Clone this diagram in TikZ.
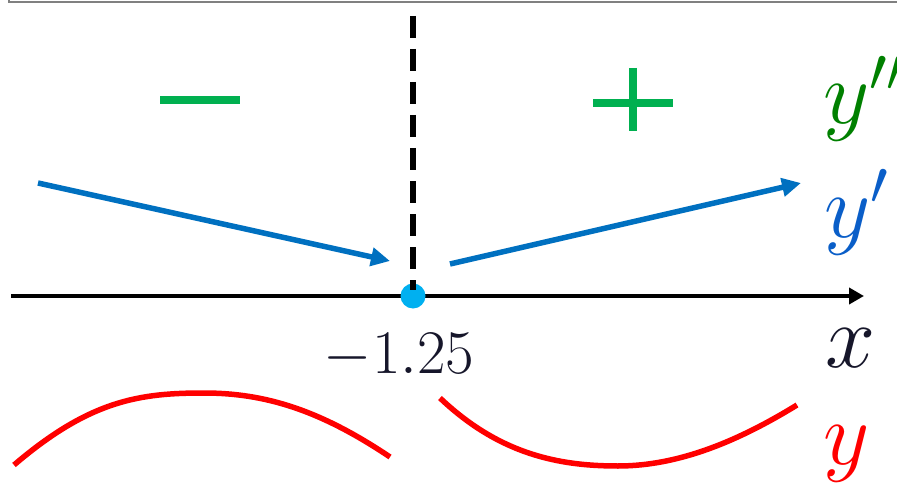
\RequirePackage{fix-cm}
\documentclass[tikz,border=0pt]{standalone}
\usetikzlibrary{arrows.meta}
\definecolor{signgreen}{HTML}{00B050}
\definecolor{labgreen}{HTML}{008000}
\definecolor{arrblue}{HTML}{0070C0}
\definecolor{labblue}{RGB}{10,94,200}
\definecolor{dotcyan}{HTML}{00B0F0}
\definecolor{curvered}{HTML}{FF0000}
\definecolor{darktext}{RGB}{22,22,42}
\definecolor{framegray}{RGB}{128,128,128}
\tikzset{
  lab/.style={inner sep=0pt, anchor=base west, font=\fontsize{90}{90}\selectfont},
  numlab/.style={inner sep=0pt, anchor=base, font=\fontsize{62}{62}\selectfont, text=darktext},
  bluearrow/.style={draw=arrblue, line width=5.5pt, -{Triangle[length=19pt,width=18pt]}},
  axisarrow/.style={draw=black, line width=3.8pt, -{Triangle[length=15pt,width=16pt]}},
  sign/.style={draw=signgreen, line width=8pt},
  curve/.style={draw=curvered, line width=5.5pt},
  vdash/.style={draw=black, line width=5.5pt, dash pattern=on 22pt off 11pt}
}
\begin{document}
\begin{tikzpicture}[x=1pt,y=-1pt]
\useasboundingbox (0,0) rectangle (897,484);
% cropped frame at top
\draw[framegray, line width=2.5pt] (9,2) -- (897,2);
\draw[framegray, line width=1.5pt] (9,0) -- (9,3);
% axis
\coordinate (axL) at (11,296);
\coordinate (axR) at (864,296);
\draw[axisarrow] (axL) -- (axR);
% critical point
\node[circle, fill=dotcyan, minimum size=25pt, inner sep=0pt] (crit) at (413,296) {};
\coordinate (dtop) at (413,16);
\coordinate (dbot) at (413,290);
\draw[vdash] (dtop) -- (dbot);
% signs of y''
\coordinate (mA) at (160,100); \coordinate (mB) at (240,100);
\draw[sign] (mA) -- (mB);
\coordinate (pA) at (593,103); \coordinate (pB) at (673,103);
\coordinate (pC) at (633,68); \coordinate (pD) at (633,131);
\draw[sign] (pA) -- (pB);
\draw[sign] (pC) -- (pD);
% y' arrows
\coordinate (b1s) at (38,183); \coordinate (b1e) at (390,261);
\coordinate (b2s) at (450,264); \coordinate (b2e) at (801,183);
\draw[bluearrow] (b1s) -- (b1e);
\draw[bluearrow] (b2s) -- (b2e);
% y curves
\coordinate (c1s) at (14,465); \coordinate (c1m) at (204,393); \coordinate (c1e) at (390,457);
\coordinate (c2s) at (440,398); \coordinate (c2m) at (618,466); \coordinate (c2e) at (797,405);
\draw[curve] (c1s) .. controls (90,400) and (140,393) .. (c1m) .. controls (265,393) and (320,410) .. (c1e);
\draw[curve] (c2s) .. controls (500,455) and (560,466) .. (c2m) .. controls (680,466) and (740,440) .. (c2e);
% labels
\node[lab, text=labgreen] (ypp) at (823,124) {$y''$};
\node[lab, text=labblue] (yp) at (824,237) {$y'$};
\node[lab, text=darktext] (xl) at (825,367) {$x$};
\node[lab, text=curvered] (yl) at (823,464) {$y$};
\node[numlab] (val) at (399,373) {$-1.25$};
\end{tikzpicture}
\end{document}
